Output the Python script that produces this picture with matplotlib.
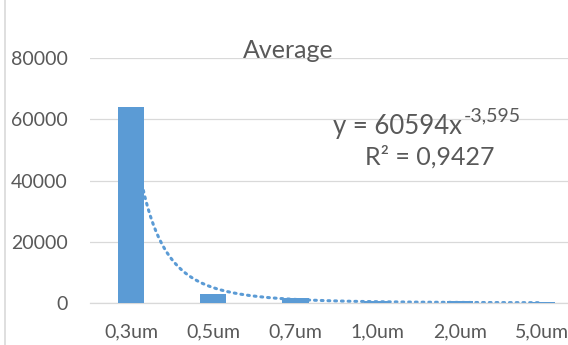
import matplotlib
matplotlib.use("Agg")
import matplotlib.pyplot as plt
import numpy as np

# data
categories = ["0,3um", "0,5um", "0,7um", "1,0um", "2,0um", "5,0um"]
averages = [64000, 3000, 1500, 800, 500, 400]
y_ticks = [0, 20000, 40000, 60000, 80000]

# power trendline shown on the chart: y = a * x^b (x = category number)
trend_a = 60594
trend_b = -3.595
trend_base = "y = 60594x"
trend_exp = "-3,595"
r2_label = "R² = 0,9427"

blue = "#5B9BD5"
grey_text = "#595959"
grid_col = "#D9D9D9"

plt.rcParams['font.family'] = ['Lato', 'DejaVu Sans']

fig = plt.figure(figsize=(5.68, 3.45), dpi=100)
ax = fig.add_axes([90 / 568, 42 / 345, 493 / 568, 245 / 345])

x = np.arange(1, len(categories) + 1)
ax.bar(x, averages, width=0.32, color=blue, zorder=3)

# trendline evaluated across the category range, behind the bars
xs = np.linspace(1, len(categories), 300)
ax.plot(xs, trend_a * xs ** trend_b, color=blue, linestyle=(0, (0.6, 1.6)),
        linewidth=2.2, dash_capstyle="round", zorder=2)

ax.set_xlim(0.5, len(categories) + 0.5)
ax.set_ylim(0, 80000)
ax.set_yticks(y_ticks)
ax.set_xticks(x)
ax.set_xticklabels(categories)
ax.yaxis.grid(True, color=grid_col, linewidth=0.9, zorder=0)
ax.set_axisbelow(True)

for s in ["top", "right", "left"]:
    ax.spines[s].set_visible(False)
ax.spines["bottom"].set_color(grid_col)
ax.spines["bottom"].set_linewidth(0.9)
ax.tick_params(axis="both", length=0, colors=grey_text, labelsize=14)
ax.tick_params(axis="y", pad=16)
ax.tick_params(axis="x", pad=15)

fig.text(288 / 568, 1 - 50 / 345, "Average", ha="center", va="center",
         fontsize=18, color=grey_text)
eq = fig.text(333 / 568, 1 - 134 / 345, trend_base, ha="left", va="baseline",
              fontsize=18.5, color=grey_text)
ax.annotate(trend_exp, xy=(1.01, 0.6), xycoords=eq, ha="left", va="bottom",
            fontsize=14, color=grey_text)
fig.text(430 / 568, 1 - 157 / 345, r2_label, ha="center", va="center",
         fontsize=18, color=grey_text)

# chart border on the left edge
fig.add_artist(plt.Line2D([5 / 568, 5 / 568], [0, 1], color=grid_col,
                          linewidth=1.2, transform=fig.transFigure))

fig.savefig("out.png", dpi=100)
